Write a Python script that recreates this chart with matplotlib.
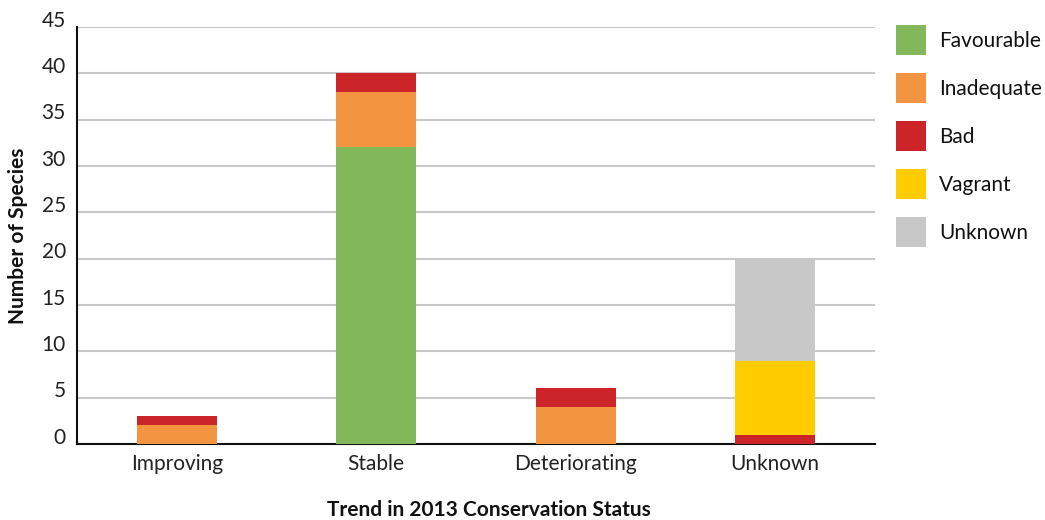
import matplotlib
matplotlib.use("Agg")
import matplotlib.pyplot as plt
import matplotlib.transforms as mtransforms
from matplotlib.patches import Rectangle
import numpy as np

plt.rcParams['font.family'] = ['Lato', 'DejaVu Sans']

categories = ["Improving", "Stable", "Deteriorating", "Unknown"]
series_names = ["Favourable", "Inadequate", "Bad", "Vagrant", "Unknown"]
favourable = [0, 32, 0, 0]
inadequate = [2, 6, 4, 0]
bad = [1, 2, 2, 1]
vagrant = [0, 0, 0, 8]
unknown = [0, 0, 0, 11]
y_ticks = [0, 5, 10, 15, 20, 25, 30, 35, 40, 45]

colors = ["#82B85A", "#F29440", "#CC2529", "#FFCC00", "#C8C8C8"]
series = [favourable, inadequate, bad, vagrant, unknown]

FS = 15
W, H = 1045, 520

fig = plt.figure(figsize=(W/100, H/100), dpi=100)
ax = fig.add_axes([77/W, 76/H, (875-77)/W, (444-27)/H])

x = np.arange(len(categories))
bottom = np.zeros(len(categories))
for vals, c, name in zip(series, colors, series_names):
    vals = np.array(vals, dtype=float)
    ax.bar(x, vals, width=0.4, bottom=bottom, color=c, zorder=3, linewidth=0, label=name)
    bottom += vals

ax.set_xlim(-0.5, 3.5)
ax.set_ylim(0, 45)
ax.set_yticks(y_ticks)
ax.set_xticks(x)
ax.set_xticklabels(categories, fontsize=FS, color="#222222")
ax.tick_params(axis='y', length=0, labelsize=FS, labelcolor="#222222", pad=8)
ax.tick_params(axis='x', length=0, pad=7)
offset = mtransforms.ScaledTranslation(0, 6/72, fig.dpi_scale_trans)
for lbl in ax.get_yticklabels():
    lbl.set_transform(lbl.get_transform() + offset)

ax.yaxis.grid(True, color="#C8C8C8", linewidth=1.5, zorder=0)
ax.set_axisbelow(True)
for s in ["top", "right"]:
    ax.spines[s].set_visible(False)
for s in ["left", "bottom"]:
    ax.spines[s].set_linewidth(1.5)
    ax.spines[s].set_color("#111111")

ax.set_ylabel("Number of Species", fontsize=FS, fontweight="bold", color="#111111")
ax.yaxis.set_label_coords((28 - 77) / 798, 0.5)
fig.text(489/W, 1 - 510/H, "Trend in 2013 Conservation Status", ha="center", va="center",
         fontsize=FS, fontweight="bold", color="#111111")

# legend (square swatches)
for i, (name, c) in enumerate(zip(series_names, colors)):
    top = 25 + 48 * i
    fig.patches.append(Rectangle((896/W, 1 - (top + 30)/H), 30/W, 30/H,
                                 transform=fig.transFigure, facecolor=c, edgecolor='none'))
    fig.text(939/W, 1 - (top + 16)/H, name, ha="left", va="center", fontsize=FS, color="#111111")

fig.savefig("out.png", dpi=100)
